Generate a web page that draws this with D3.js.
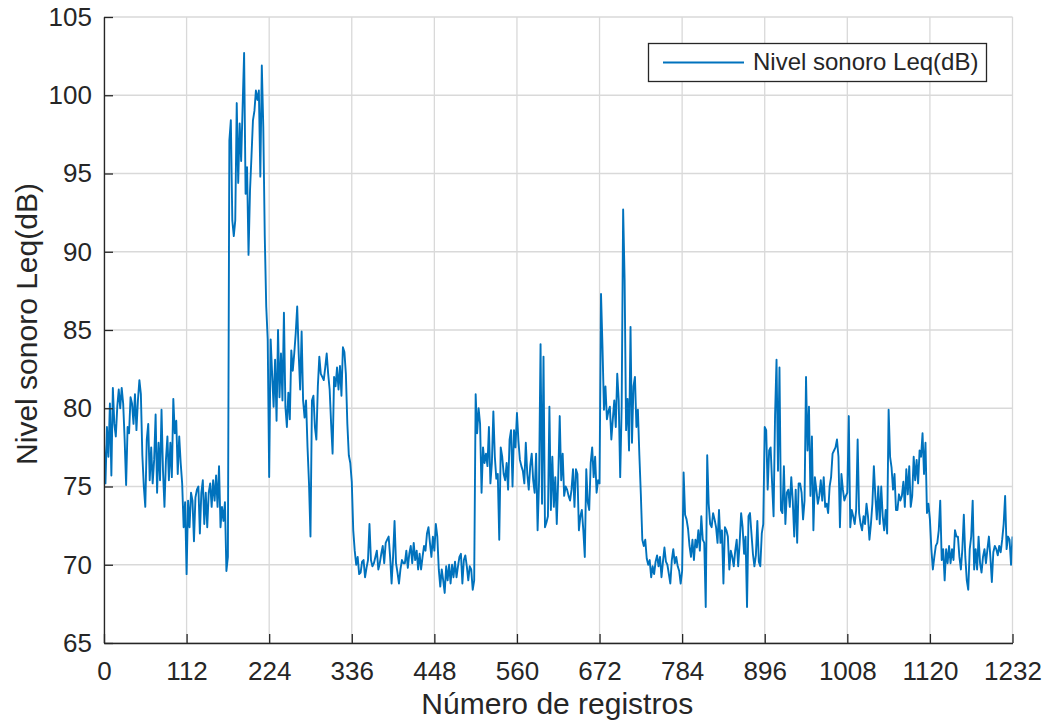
<!DOCTYPE html>
<html>
<head>
<meta charset="utf-8">
<script src="https://cdn.jsdelivr.net/npm/d3@7"></script>
<style>
  html, body { margin: 0; padding: 0; background: #ffffff; }
  svg { display: block; }
  text { font-family: "Liberation Sans", Arial, Helvetica, sans-serif; fill: #262626; }
</style>
</head>
<body>
<svg id="chart" width="1046" height="724"></svg>
<script>
// Nivel sonoro equivalente, una lectura cada 2 registros
const paso = 2;
const nivel = [
  77.8,75.2,78.8,76.9,80.3,75.7,81.3,79.0,78.2,80.1,81.2,80.0,81.3,80.3,78.0,75.1,78.8,78.4,80.7,80.3,
  79.0,80.9,78.6,80.5,81.8,80.9,77.0,75.0,73.7,78.0,79.0,75.4,77.5,75.2,76.7,79.6,74.6,77.8,75.4,79.9,
  76.0,73.7,76.7,78.2,75.4,77.8,75.6,80.6,78.4,79.2,75.8,78.2,76.5,75.2,72.4,74.0,69.4,74.1,72.4,74.6,
  74.1,71.5,74.3,74.8,75.0,72.0,74.6,75.4,72.6,74.6,72.4,74.6,75.2,73.7,75.4,74.1,75.7,73.7,76.3,72.4,
  73.7,72.8,74.0,69.6,70.5,97.1,98.4,92.0,91.0,92.0,99.5,94.4,98.2,95.8,99.3,102.7,93.7,95.4,89.8,93.9,
  96.1,98.4,99.0,100.3,99.7,100.3,94.8,101.9,98.0,91.0,86.5,84.4,75.6,84.4,82.2,80.1,83.1,79.2,85.0,80.7,
  83.5,80.5,86.1,80.1,78.8,81.0,79.3,83.7,82.4,83.5,84.8,86.5,83.5,81.2,84.9,80.5,79.4,80.5,77.5,75.2,
  71.8,80.5,80.8,78.8,78.0,81.4,83.3,82.2,82.0,81.8,82.6,83.5,82.2,81.2,79.0,77.1,82.0,81.4,82.6,81.2,
  82.7,80.8,83.9,83.6,82.2,79.0,77.0,76.5,75.3,72.2,70.9,70.0,70.5,69.4,69.5,70.2,70.3,69.2,69.8,70.3,
  72.6,70.3,69.9,70.1,70.5,70.9,69.7,70.1,70.7,71.2,70.1,71.4,71.6,71.8,70.5,68.8,70.5,72.8,70.1,69.5,
  68.8,69.7,70.3,70.1,70.1,70.9,69.8,70.7,71.2,70.1,71.4,70.3,70.9,69.7,70.7,69.7,70.5,71.2,70.9,72.0,
  72.4,71.4,70.5,71.8,70.9,72.6,71.8,69.7,68.6,69.7,69.0,68.2,69.9,69.0,70.0,68.8,70.0,69.2,70.2,69.2,
  69.9,70.5,70.7,68.8,70.3,70.6,69.9,69.0,69.9,69.7,68.4,69.0,80.9,78.4,80.0,79.0,74.6,77.5,76.5,77.1,
  76.3,78.8,75.2,76.5,79.8,76.9,75.5,75.8,71.6,77.5,76.9,75.8,75.4,76.5,74.8,78.0,78.6,75.0,78.6,77.5,
  79.7,77.9,76.7,76.3,76.0,75.2,77.8,75.8,74.8,76.3,77.1,75.4,74.6,77.1,72.2,75.4,84.1,73.9,83.3,72.4,
  72.7,73.1,80.1,73.5,76.9,73.7,75.6,72.6,75.6,79.5,75.4,77.1,74.4,75.0,74.8,74.4,74.1,74.8,76.1,73.7,
  76.1,75.8,72.2,73.1,73.5,72.2,70.5,76.1,74.0,73.5,76.5,77.5,75.6,76.9,74.6,75.4,75.2,87.3,83.9,79.9,
  81.4,79.3,79.8,80.1,78.0,79.3,80.5,78.8,82.2,80.5,75.6,80.1,92.7,88.2,78.6,80.6,77.3,85.2,77.8,81.4,
  82.0,78.8,79.9,77.0,74.5,71.6,71.2,71.6,70.4,70.0,70.3,69.2,69.9,69.4,70.2,70.6,69.9,70.5,69.2,70.2,
  71.1,70.2,70.0,69.4,68.8,70.3,71.0,70.1,70.5,69.9,69.6,68.8,69.6,75.9,73.2,72.9,72.3,71.2,70.5,71.6,
  70.3,71.6,71.1,72.2,70.9,73.1,71.6,71.4,67.3,77.0,73.9,72.6,72.4,73.3,72.9,72.4,71.4,73.5,71.4,72.2,
  68.8,72.4,72.2,71.8,69.7,70.9,70.5,69.9,70.9,71.6,69.9,71.4,73.3,72.4,70.7,71.8,67.3,73.1,73.3,72.0,
  70.7,69.9,70.6,72.8,70.2,69.9,72.0,72.6,78.8,78.6,74.8,77.3,77.5,75.2,73.1,79.5,83.1,76.0,82.6,73.5,
  73.3,76.3,72.6,74.6,74.8,73.7,75.6,74.1,71.8,74.8,71.4,75.2,75.2,74.6,72.9,74.1,82.0,77.3,80.1,74.4,
  78.2,72.2,75.6,74.8,73.9,74.4,75.4,74.1,75.6,73.7,73.9,73.3,75.0,75.6,77.1,77.3,77.5,78.0,76.9,72.4,
  75.8,74.8,74.1,74.4,74.6,79.5,72.4,73.5,73.1,72.6,73.5,78.0,73.3,72.6,72.2,73.1,72.6,73.9,73.1,71.6,
  72.6,73.9,76.3,74.4,72.9,75.0,72.6,75.0,73.1,72.2,73.5,72.0,79.9,76.9,76.2,74.8,75.8,73.5,73.5,74.5,
  74.1,74.4,75.3,73.7,76.1,74.5,76.3,73.7,74.4,76.9,75.4,76.7,75.2,77.3,76.9,78.4,75.8,77.8,73.3,73.9,
  72.9,71.0,69.7,70.5,71.2,71.4,72.2,74.1,70.3,71.0,69.0,71.0,70.1,71.2,70.1,71.0,70.3,72.2,71.8,71.8,
  70.5,69.7,71.0,73.2,70.5,69.0,68.4,71.0,71.8,74.1,69.7,71.0,69.7,71.8,70.1,69.5,70.5,71.0,70.1,71.0,
  71.8,70.5,68.9,70.8,71.2,71.0,70.6,71.2,70.8,71.6,72.6,74.4,71.0,71.8,71.6,70.0,71.8
];
const registros = nivel.map((_, i) => i * paso);

const xTicks = [0, 112, 224, 336, 448, 560, 672, 784, 896, 1008, 1120, 1232];
const yTicks = [65, 70, 75, 80, 85, 90, 95, 100, 105];
const nombreSerie = "Nivel sonoro Leq(dB)";
const tituloX = "Número de registros";
const tituloY = "Nivel sonoro Leq(dB)";

const colorLinea = "#0072bd";
const colorEje = "#262626";
const colorRejilla = "#d9d9d9";

const svg = d3.select("#chart");
const area = { left: 104, right: 1012.5, top: 17, bottom: 643 };

const x = d3.scaleLinear().domain([0, 1232]).range([area.left, area.right]);
const y = d3.scaleLinear().domain([65, 105]).range([area.bottom, area.top]);

// Rejilla
const rejilla = svg.append("g").attr("class", "rejilla")
  .attr("stroke", colorRejilla).attr("stroke-width", 1.3);
rejilla.selectAll("line.v").data(xTicks).join("line").attr("class", "v")
  .attr("x1", d => x(d)).attr("x2", d => x(d))
  .attr("y1", area.top).attr("y2", area.bottom);
rejilla.selectAll("line.h").data(yTicks).join("line").attr("class", "h")
  .attr("x1", area.left).attr("x2", area.right)
  .attr("y1", d => y(d)).attr("y2", d => y(d));

// Serie
svg.append("defs").append("clipPath").attr("id", "recorte")
  .append("rect")
  .attr("x", area.left).attr("y", area.top)
  .attr("width", area.right - area.left).attr("height", area.bottom - area.top);

const linea = d3.line()
  .x((d, i) => x(registros[i]))
  .y(d => y(d));

svg.append("path")
  .datum(nivel)
  .attr("clip-path", "url(#recorte)")
  .attr("fill", "none")
  .attr("stroke", colorLinea)
  .attr("stroke-width", 1.9)
  .attr("stroke-linejoin", "round")
  .attr("d", linea);

// Ejes con marcas hacia dentro
const ejeX = d3.axisBottom(x).tickValues(xTicks).tickFormat(d3.format("d"))
  .tickSizeInner(-9).tickSizeOuter(0).tickPadding(19);
const ejeY = d3.axisLeft(y).tickValues(yTicks).tickFormat(d3.format("d"))
  .tickSizeInner(-9).tickSizeOuter(0).tickPadding(12);

const gx = svg.append("g").attr("transform", `translate(0,${area.bottom})`).call(ejeX);
const gy = svg.append("g").attr("transform", `translate(${area.left},0)`).call(ejeY);

[gx, gy].forEach(g => {
  g.select(".domain").attr("stroke", colorEje).attr("stroke-width", 1.3);
  g.selectAll(".tick line").attr("stroke", colorEje).attr("stroke-width", 1.3);
  g.selectAll(".tick text")
    .attr("fill", colorEje)
    .style("font-family", '"Liberation Sans", Arial, sans-serif')
    .style("font-size", "26px");
});

// Títulos de los ejes
svg.append("text")
  .attr("x", (area.left + area.right) / 2 - 1)
  .attr("y", 714)
  .attr("text-anchor", "middle")
  .style("font-size", "30px")
  .text(tituloX);

svg.append("text")
  .attr("transform", `translate(37,${(area.top + area.bottom) / 2 - 6}) rotate(-90)`)
  .attr("text-anchor", "middle")
  .style("font-size", "30px")
  .text(tituloY);

// Leyenda
const leyenda = svg.append("g").attr("class", "leyenda");
leyenda.append("rect")
  .attr("x", 648.5).attr("y", 43.5)
  .attr("width", 338).attr("height", 38)
  .attr("fill", "#ffffff")
  .attr("stroke", colorEje).attr("stroke-width", 1.3);
leyenda.append("line")
  .attr("x1", 663).attr("x2", 744)
  .attr("y1", 62.5).attr("y2", 62.5)
  .attr("stroke", colorLinea).attr("stroke-width", 1.9);
leyenda.append("text")
  .attr("x", 753).attr("y", 70)
  .style("font-size", "24px")
  .text(nombreSerie);
</script>
</body>
</html>
